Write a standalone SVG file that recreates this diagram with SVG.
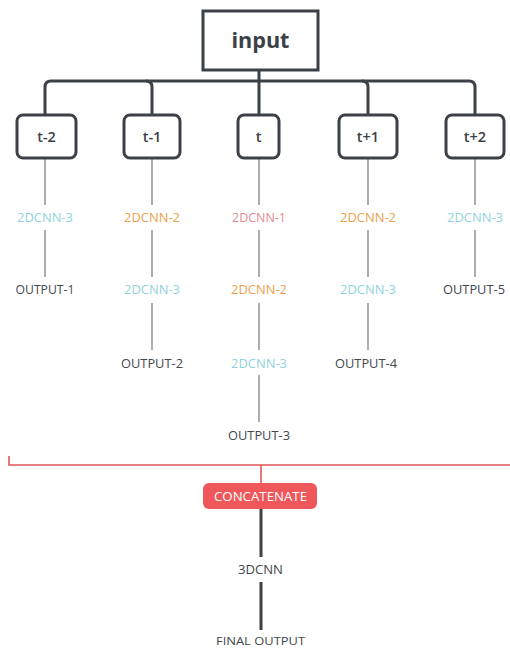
<svg xmlns="http://www.w3.org/2000/svg" width="510" height="648" viewBox="0 0 510 648">
<style>
.box{fill:#fff;stroke:#3c4047;stroke-width:3}
.bus{fill:none;stroke:#3c4047;stroke-width:3}
.thin{stroke:#8a8a8a;stroke-width:1.4;fill:none}
.thick{stroke:#3c4047;stroke-width:3;fill:none}
.red{stroke:#e0565b;stroke-width:1.6;fill:none}
text{font-family:"Open Sans","Liberation Sans",sans-serif;text-anchor:middle;font-size:12.5px}
.lbl{font-weight:600;font-size:14.5px;fill:#3c4047}
.in{font-weight:700;font-size:22px;fill:#3c4047}
.out{fill:#44474c}
.c1{fill:#e58a92}
.c2{fill:#eea14c}
.c3{fill:#8fd2de}
.cat{fill:#fff;font-size:12.5px}
.fin{font-size:11.5px}
</style>
<g id="connectors">
<path class="bus" d="M259,70 V115"/>
<path class="bus" d="M45,115 V87 Q45,81 51,81 H469 Q475,81 475,87 V115"/>
<path class="bus" d="M146,81 Q152,81 152,87 V115"/>
<path class="bus" d="M362,81 Q368,81 368,87 V115"/>
<path class="thin" d="M45,158 V205 M45,230 V277"/>
<path class="thin" d="M152,158 V205 M152,230 V277 M152,303 V350"/>
<path class="thin" d="M259,158 V205 M259,230 V277 M259,303 V350 M259,375 V422"/>
<path class="thin" d="M368,158 V205 M368,230 V277 M368,303 V350"/>
<path class="thin" d="M475,158 V205 M475,230 V277"/>
<path class="red" d="M9,456 V465 H510 M261,465 V475 M261,475 V483"/>
<path class="thick" d="M261,509 V557 M261,582 V630"/>
</g>
<g id="input"><rect class="box" x="203" y="11" width="115" height="59"/><text class="in" x="260.5" y="48" textLength="58" lengthAdjust="spacingAndGlyphs">input</text></g>
<g id="t-2"><rect class="box" x="17" y="115" width="59" height="43" rx="6"/><text class="lbl" x="46.5" y="141.5">t-2</text></g>
<g id="t-1"><rect class="box" x="124" y="115" width="56" height="43" rx="6"/><text class="lbl" x="152" y="141.5">t-1</text></g>
<g id="t"><rect class="box" x="238" y="115" width="41" height="43" rx="6"/><text class="lbl" x="258.5" y="141.5">t</text></g>
<g id="t+1"><rect class="box" x="339" y="115" width="58" height="43" rx="6"/><text class="lbl" x="368" y="141.5">t+1</text></g>
<g id="t+2"><rect class="box" x="446" y="115" width="58" height="43" rx="6"/><text class="lbl" x="475" y="141.5">t+2</text></g>
<g id="col1">
<text class="c3" x="45" y="221.5" textLength="56" lengthAdjust="spacingAndGlyphs">2DCNN-3</text>
<text class="out" x="45" y="293.5" textLength="59" lengthAdjust="spacingAndGlyphs">OUTPUT-1</text>
</g>
<g id="col2">
<text class="c2" x="152" y="221.5" textLength="56" lengthAdjust="spacingAndGlyphs">2DCNN-2</text>
<text class="c3" x="152" y="293.5" textLength="56" lengthAdjust="spacingAndGlyphs">2DCNN-3</text>
<text class="out" x="152" y="367.5" textLength="62" lengthAdjust="spacingAndGlyphs">OUTPUT-2</text>
</g>
<g id="col3">
<text class="c1" x="259" y="221.5" textLength="54" lengthAdjust="spacingAndGlyphs">2DCNN-1</text>
<text class="c2" x="259" y="293.5" textLength="56" lengthAdjust="spacingAndGlyphs">2DCNN-2</text>
<text class="c3" x="259" y="367.5" textLength="56" lengthAdjust="spacingAndGlyphs">2DCNN-3</text>
<text class="out" x="259" y="439.5" textLength="62" lengthAdjust="spacingAndGlyphs">OUTPUT-3</text>
</g>
<g id="col4">
<text class="c2" x="368" y="221.5" textLength="56" lengthAdjust="spacingAndGlyphs">2DCNN-2</text>
<text class="c3" x="368" y="293.5" textLength="56" lengthAdjust="spacingAndGlyphs">2DCNN-3</text>
<text class="out" x="366" y="367.5" textLength="62" lengthAdjust="spacingAndGlyphs">OUTPUT-4</text>
</g>
<g id="col5">
<text class="c3" x="475" y="221.5" textLength="56" lengthAdjust="spacingAndGlyphs">2DCNN-3</text>
<text class="out" x="474" y="293.5" textLength="62" lengthAdjust="spacingAndGlyphs">OUTPUT-5</text>
</g>
<g id="concatenate"><rect x="203" y="483" width="114" height="26" rx="6" fill="#ef575b"/><text class="cat" x="260.5" y="500.5" textLength="93" lengthAdjust="spacingAndGlyphs">CONCATENATE</text></g>
<g id="3dcnn"><text class="out" x="260.5" y="573.5" textLength="45" lengthAdjust="spacingAndGlyphs">3DCNN</text></g>
<g id="final"><text class="out fin" x="260.5" y="644.5" textLength="89" lengthAdjust="spacingAndGlyphs">FINAL OUTPUT</text></g>
</svg>
